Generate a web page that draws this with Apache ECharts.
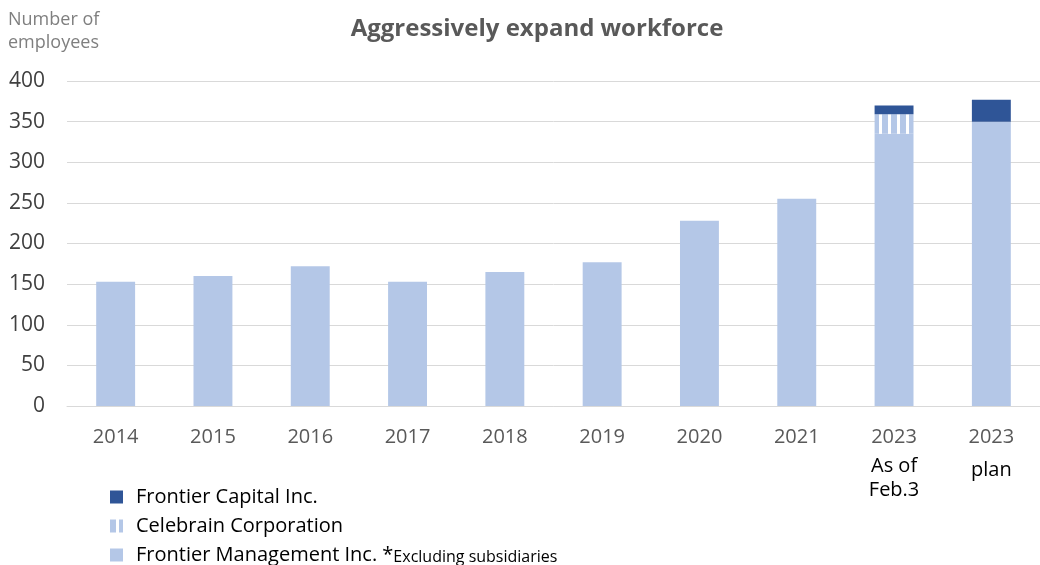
<!DOCTYPE html>
<html><head><meta charset="utf-8">
<script src="https://cdn.jsdelivr.net/npm/echarts@6/dist/echarts.min.js"></script>
<style>html,body{margin:0;padding:0;background:#fff}#c{width:1040px;height:565px}</style>
</head><body><div id="c"></div>
<script>
const categories = ['2014','2015','2016','2017','2018','2019','2020','2021','2023a','2023b'];
const frontierManagement = [153,160,172,153,165,177,228,255,335,350];
const celebrain = ['-','-','-','-','-','-','-','-',24,'-'];
const frontierCapital = ['-','-','-','-','-','-','-','-',11,27];
const yTicks = [0,50,100,150,200,250,300,350,400];

const stripe = document.createElement('canvas');
stripe.width = 9; stripe.height = 9;
const sc = stripe.getContext('2d');
sc.fillStyle = '#B4C7E7'; sc.fillRect(0,0,9,9);
sc.fillStyle = '#ffffff'; sc.fillRect(6,0,3,9);

const font = '"Open Sans", "Noto Sans", sans-serif';
const chart = echarts.init(document.getElementById('c'));
chart.setOption({
  animation:false,
  textStyle:{fontFamily:font},
  title:{text:'Aggressively expand workforce',left:532,textAlign:'center',top:12,
    textStyle:{fontFamily:font,fontSize:24,fontWeight:'bold',color:'#595959'}},
  graphic:[{type:'text',left:8,top:8,style:{text:'Number of\nemployees',fontFamily:font,fontSize:18,lineHeight:23,fill:'#7f7f7f'}}],
  grid:{left:67,right:0,top:81,bottom:159,containLabel:false},
  legend:{orient:'vertical',left:105,top:482,height:120,itemWidth:13,itemHeight:13,itemGap:9,icon:'rect',
    data:['Frontier Capital Inc.','Celebrain Corporation','Frontier Management Inc.'],
    textStyle:{fontFamily:font,fontSize:20,lineHeight:20,color:'#000',padding:[0,0,0,8],
      rich:{s:{fontFamily:font,fontSize:16,lineHeight:20,color:'#000',verticalAlign:'bottom'}}},
    formatter:function(n){return n==='Frontier Management Inc.'?n+' *{s|Excluding subsidiaries}':n;}},
  xAxis:{type:'category',data:categories,
    axisLine:{lineStyle:{color:'#D9D9D9',width:1}},axisTick:{show:false},
    axisLabel:{margin:16,fontSize:20,lineHeight:30,color:'#595959',fontFamily:font,interval:0,
      formatter:function(v){
        if(v==='2023a') return '2023\n{b|As of}\n{d|Feb.3}';
        if(v==='2023b') return '2023\n{c|plan}';
        return v;},
      rich:{b:{fontSize:20,color:'#000',lineHeight:28,fontFamily:font},
            d:{fontSize:20,color:'#000',lineHeight:20,fontFamily:font},
            c:{fontSize:20,color:'#000',lineHeight:36,fontFamily:font}}}},
  yAxis:{type:'value',min:0,max:400,interval:50,
    axisLine:{show:false},axisTick:{show:false},
    splitLine:{lineStyle:{color:'#D9D9D9',width:1}},
    axisLabel:{margin:22,fontSize:21,color:'#404040',fontFamily:font,
      formatter:function(v){return yTicks.indexOf(v)>=0?String(v):'';}}},
  series:[
    {name:'Frontier Management Inc.',type:'bar',stack:'t',barWidth:'40%',data:frontierManagement,itemStyle:{color:'#B4C7E7'}},
    {name:'Celebrain Corporation',type:'bar',stack:'t',data:celebrain,itemStyle:{color:{image:stripe,repeat:'repeat'}}},
    {name:'Frontier Capital Inc.',type:'bar',stack:'t',data:frontierCapital,itemStyle:{color:'#2F5597'}}
  ]
});
</script></body></html>
